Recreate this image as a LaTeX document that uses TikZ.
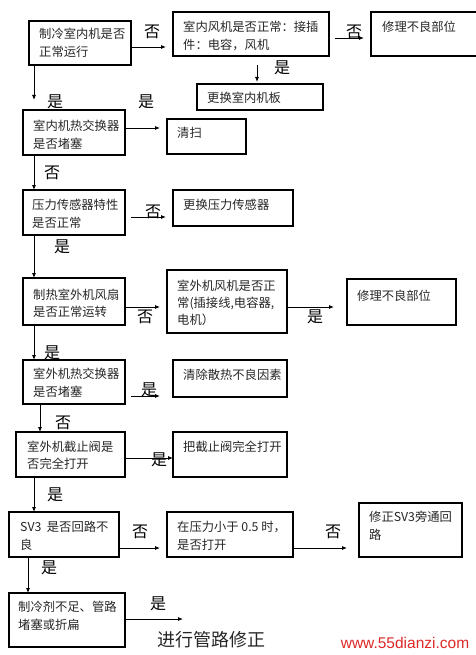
\documentclass[tikz,border=0pt]{standalone}
\usepackage{fontspec}
\setmainfont{Noto Sans CJK SC}
\newfontfamily\wmfont{Liberation Sans}
\usetikzlibrary{arrows.meta}
\definecolor{wmred}{RGB}{222,40,40}
\newcommand\mkbox[5]{\node[box,minimum width={#4-#2},minimum height={#5-#3}] (#1) at (#2,#3) {};}
\begin{document}
\begin{tikzpicture}[x=1pt,y=-1pt,
 box/.style={draw=black, line width=1.1pt, anchor=north west, inner sep=0pt, outer sep=0pt},
 txt/.style={anchor=north west, inner sep=0pt, align=left, font=\fontsize{12.3}{18}\selectfont, text=black!85},
 txtb/.style={txt, font=\fontsize{12.3}{17}\selectfont},
 lab/.style={inner sep=0pt, font=\fontsize{16}{16}\selectfont},
 arr/.style={-{Latex[length=5pt,width=4pt]}, line width=0.8pt}]
\useasboundingbox (0,0) rectangle (475,655);
% boxes
\mkbox{r1a}{29}{21}{131}{65}
\mkbox{r1b}{173}{12}{329}{56}
\mkbox{r1c}{371}{12}{480}{56}
\mkbox{r1d}{197}{84}{323}{110}
\mkbox{r2a}{23}{110}{125}{155}
\mkbox{r2b}{167}{119}{246}{154}
\mkbox{r3a}{23}{190}{125}{235}
\mkbox{r3b}{173}{190}{293}{226}
\mkbox{r4a}{23}{278}{125}{325}
\mkbox{r4b}{167}{270}{287}{333}
\mkbox{r4c}{347}{279}{456}{325}
\mkbox{r5a}{23}{360}{125}{404}
\mkbox{r5b}{173}{360}{287}{397}
\mkbox{r6a}{16}{432}{125}{477}
\mkbox{r6b}{173}{432}{287}{477}
\mkbox{r7a}{9}{512}{119}{557}
\mkbox{r7b}{167}{512}{293}{557}
\mkbox{r7c}{359}{503}{462}{557}
\mkbox{r8a}{9}{593}{125}{647}
% texts
\node[txt] (t1a) at (39,27.5) {制冷室内机是否\\正常运行};
\node[txt] (t1b) at (183,20.5) {室内风机是否正常：接插\\件：电容，风机};
\node[txt] (t1c) at (382,20.5) {修理不良部位};
\node[txt] (t1d) at (207,91.5) {更换室内机板};
\node[txt] (t2a) at (33,119.5) {室内机热交换器\\是否堵塞};
\node[txt] (t2b) at (177,126.5) {清扫};
\node[txt] (t3a) at (32,198.5) {压力传感器特性\\是否正常};
\node[txt] (t3b) at (183,198.5) {更换压力传感器};
\node[txtb] (t4a) at (33,288.5) {制热室外机风扇\\是否正常运转};
\node[txtb] (t4b) at (177,279.5) {室外机风机是否正\\常(插接线,电容器,\\电机）};
\node[txt] (t4c) at (357,289.5) {修理不良部位};
\node[txt] (t5a) at (33,367.5) {室外机热交换器\\是否堵塞};
\node[txt] (t5b) at (183,368.5) {清除散热不良因素};
\node[txtb] (t6a) at (27,440.5) {室外机截止阀是\\否完全打开};
\node[txt] (t6b) at (183,440.5) {把截止阀完全打开};
\node[txt] (t7a) at (20,520.5) {SV3\ \ 是否回路不\\良};
\node[txt] (t7b) at (177,520.5) {在压力小于 0.5 时，\\是否打开};
\node[txt] (t7c) at (369,510.5) {修正SV3旁通回\\路};
\node[txt] (t8a) at (18,600.5) {制冷剂不足、管路\\堵塞或折扁};
\node[inner sep=0pt, font=\fontsize{18}{18}\selectfont, text=black!85] (r8t) at (211,640) {进行管路修正};
\coordinate (e19) at (183,619);
% connectors
\draw[arr, shorten >=7pt] (r1a.east |- 0,47) -- (r1b.west |- 0,47);
\draw[arr, shorten <=6pt, shorten >=7pt] (r1b.east |- 0,38) -- (r1c.west |- 0,38);
\draw[arr, shorten <=9pt, shorten >=2pt] (r1b.south -| 257,0) -- (r1d.north -| 257,0);
\draw[arr, shorten >=10pt] (r1a.south -| 34,0) -- (r2a.north -| 34,0);
\draw[arr, shorten >=7pt] (r2a.east |- 0,128) -- (r2b.west |- 0,128);
\draw[arr] (r2a.south -| 34,0) -- (r3a.north -| 34,0);
\draw[arr, shorten <=6pt, shorten >=7pt] (r3a.east |- 0,217) -- (r3b.west |- 0,217);
\draw[arr] (r3a.south -| 34,0) -- (r4a.north -| 34,0);
\draw[arr, shorten >=7pt] (r4a.east |- 0,307) -- (r4b.west |- 0,307);
\draw[arr, shorten >=13pt] (r4b.east |- 0,307) -- (r4c.west |- 0,307);
\draw[arr] (r4a.south -| 34,0) -- (r5a.north -| 34,0);
\draw[arr, shorten <=6pt, shorten >=13pt] (r5a.east |- 0,396) -- (r5b.west |- 0,396);
\draw[arr] (r5a.south -| 40,0) -- (r6a.north -| 40,0);
\draw[arr] (r6a.east |- 0,458) -- (r6b.west |- 0,458);
\draw[arr] (r6a.south -| 34,0) -- (r7a.north -| 34,0);
\draw[arr, shorten >=7pt] (r7a.east |- 0,548) -- (r7b.west |- 0,548);
\draw[arr, shorten >=12pt] (r7b.east |- 0,548) -- (r7c.west |- 0,548);
\draw[arr] (r7a.south -| 28,0) -- (r8a.north -| 28,0);
\draw[arr] (r8a.east |- 0,619) -- (e19);
% labels
\node[lab] (l1) at (152,32) {否};
\node[lab] (l2) at (354,32) {否};
\node[lab] (l3) at (282,68) {是};
\node[lab] (l4) at (55,102) {是};
\node[lab] (l5) at (146,102) {是};
\node[lab] (l6) at (52,173) {否};
\node[lab] (l7) at (153,212) {否};
\node[lab] (l8) at (62,247) {是};
\node[lab] (l9) at (145,317) {否};
\node[lab] (l10) at (315,317) {是};
\node[lab] (l11) at (52,353) {是};
\node[lab] (l12) at (149,390) {是};
\node[lab] (l13) at (63,423) {否};
\node[lab] (l14) at (159,460) {是};
\node[lab] (l15) at (55,495) {是};
\node[lab] (l16) at (140,532) {否};
\node[lab] (l17) at (333,532) {否};
\node[lab] (l18) at (49,568) {是};
\node[lab] (l19) at (158,604) {是};
% watermark
\node[inner sep=0pt, font=\wmfont\fontsize{15.5}{15.5}\selectfont, text=wmred] (wm) at (405,643) {www.55dianzi.com};
\end{tikzpicture}
\end{document}
